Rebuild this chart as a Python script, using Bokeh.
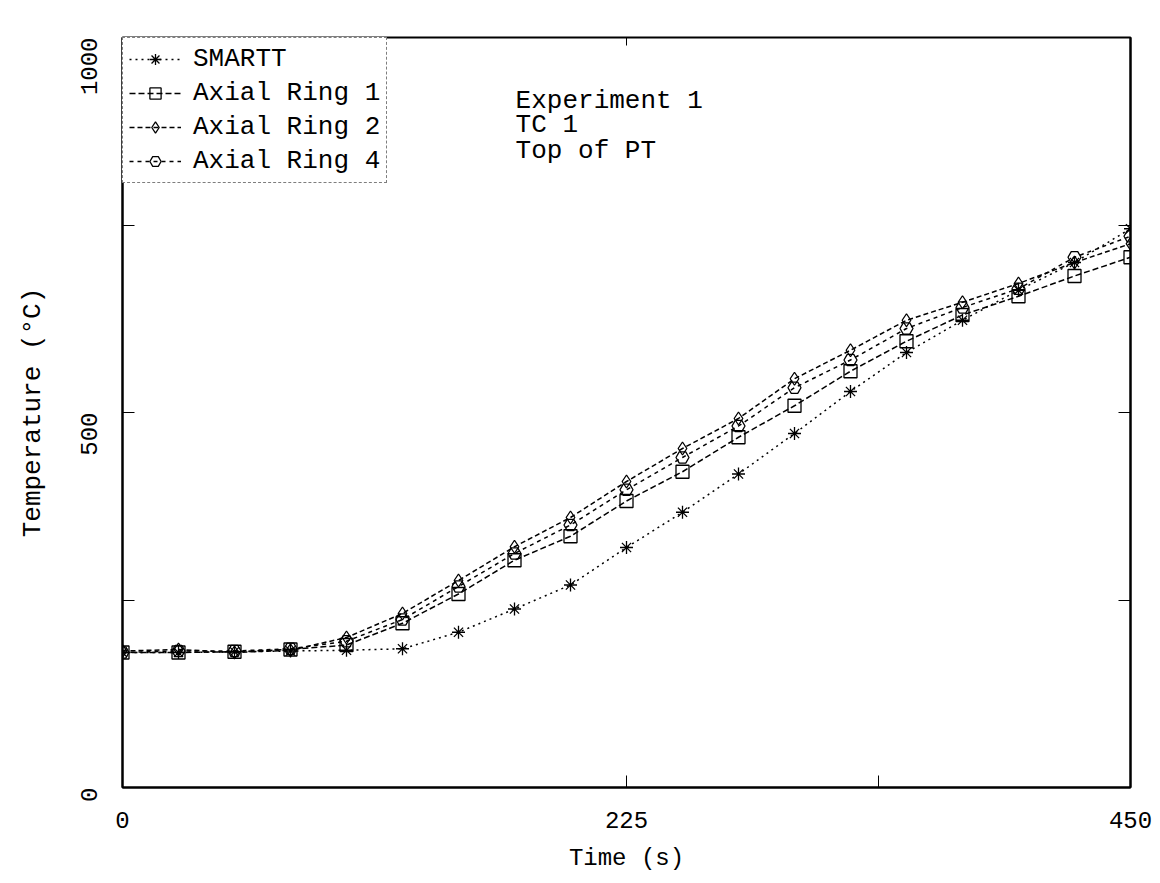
import math
from bokeh.plotting import figure
from bokeh.models import (FixedTicker, LinearAxis, Legend, LegendItem, Label,
                          Range1d, CustomJSTickFormatter)
from bokeh.embed import file_html
from bokeh.resources import INLINE

# ---- data ----
time_s = [0, 25, 50, 75, 100, 125, 150, 175, 200, 225, 250, 275, 300, 325, 350, 375, 400, 425, 450]
smartt = [180, 180, 181, 182, 183, 185, 207, 238, 270, 320, 367, 418, 472, 528, 580, 623, 663, 700, 745]
ring1 = [180, 180, 181, 184, 190, 219, 258, 303, 335, 382, 421, 467, 509, 555, 595, 630, 655, 682, 707]
ring2 = [182, 184, 180, 183, 200, 232, 276, 321, 360, 408, 452, 492, 545, 583, 623, 647, 672, 700, 725]
ring4 = [180, 182, 182, 185, 195, 224, 268, 312, 350, 397, 440, 482, 533, 570, 612, 640, 665, 707, 735]

series_names = ["SMARTT", "Axial Ring 1", "Axial Ring 2", "Axial Ring 4"]
x_ticks = [0, 225, 450]
x_minor = [337.5]
y_ticks = [0, 500, 1000]
y_minor = [250, 750]
right_ticks = [250, 500, 750]
top_ticks = [225]
annot_lines = ["Experiment 1", "TC 1", "Top of PT"]

FONT = "Liberation Mono"

p = figure(width=1160, height=883, output_backend="svg", toolbar_location=None,
           x_range=Range1d(0, 450), y_range=Range1d(0, 1000),
           min_border_left=122, min_border_right=30, min_border_top=37,
           min_border_bottom=96, background_fill_color="white",
           border_fill_color="white")
p.xgrid.visible = False
p.ygrid.visible = False
p.outline_line_color = "black"
p.outline_line_width = 2

# axes styling
for ax in p.xaxis:
    ax.ticker = FixedTicker(ticks=x_ticks, minor_ticks=x_minor)
    ax.axis_label = "Time (s)"
for ax in p.yaxis:
    ax.ticker = FixedTicker(ticks=y_ticks, minor_ticks=y_minor)
    ax.axis_label = "Temperature (\u00b0C)"
    ax.major_label_orientation = math.pi / 2

for ax in p.xaxis + p.yaxis:
    ax.axis_line_color = "black"
    ax.axis_line_width = 2
    ax.major_tick_in = 12
    ax.major_tick_out = 0
    ax.minor_tick_in = 12
    ax.minor_tick_out = 0
    ax.major_tick_line_color = "black"
    ax.minor_tick_line_color = "black"
    ax.major_label_text_font = FONT
    ax.major_label_text_font_size = "24px"
    ax.major_label_text_color = "black"
    ax.axis_label_text_font = FONT
    ax.axis_label_text_font_style = "normal"
    ax.axis_label_text_color = "black"

p.xaxis.major_label_standoff = 24
p.xaxis.axis_label_standoff = 14
p.xaxis.axis_label_text_font_size = "24px"
p.yaxis.major_label_standoff = 34
p.yaxis.axis_label_standoff = 22
p.yaxis.axis_label_text_font_size = "26px"

blank = CustomJSTickFormatter(code="return '';")
# right and top axes (ticks only)
right = LinearAxis(ticker=FixedTicker(ticks=right_ticks), formatter=blank,
                   major_tick_in=12, major_tick_out=0, minor_tick_in=0, minor_tick_out=0,
                   major_label_standoff=0,
                   axis_line_color="black", axis_line_width=2)
p.add_layout(right, "right")
top = LinearAxis(ticker=FixedTicker(ticks=top_ticks), formatter=blank,
                 major_tick_in=8, major_tick_out=0, minor_tick_in=0, minor_tick_out=0,
                 major_label_standoff=0,
                 axis_line_color="black", axis_line_width=1)
p.add_layout(top, "above")

# series
styles = [
    (smartt, "asterisk", "2 4"),
    (ring1, "square", "6 3"),
    (ring2, "diamond", "5 3"),
    (ring4, "hex", "4 4"),
]
items = []
for (vals, marker, dash), name in zip(styles, series_names):
    ln = p.line(time_s, vals, line_color="black", line_width=1.5, line_dash=dash)
    mk = p.scatter(time_s, vals, marker=marker, size=13, line_color="black",
                   fill_color="white", fill_alpha=0.0, line_width=1.3)
    items.append(LegendItem(label=name, renderers=[ln, mk]))

legend = Legend(items=items, location="top_left", margin=0, padding=6, spacing=4,
                glyph_width=52, glyph_height=28, label_standoff=12,
                label_text_font=FONT, label_text_font_size="26px",
                label_text_color="black",
                border_line_color="black", border_line_dash="4 2", border_line_width=1,
                background_fill_color="white", background_fill_alpha=1.0)
p.add_layout(legend, "center")

# annotation text
ys = [916, 883, 849]
for txt, yy in zip(annot_lines, ys):
    p.add_layout(Label(x=175.5, y=yy, text=txt, text_font=FONT, text_font_size="26px",
                       text_baseline="middle", text_align="left", text_color="black"))

open("out.html", "w").write(file_html(p, INLINE))
